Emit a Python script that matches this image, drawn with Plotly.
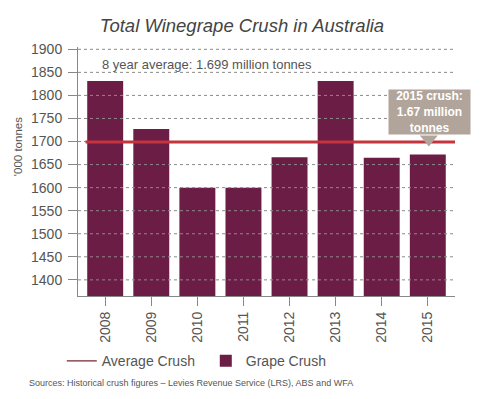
import plotly.graph_objects as go

years = ["2008", "2009", "2010", "2011", "2012", "2013", "2014", "2015"]
crush = [1831, 1727, 1600, 1600, 1666, 1831, 1665, 1672]
average = 1699
y_ticks = [1400, 1450, 1500, 1550, 1600, 1650, 1700, 1750, 1800, 1850, 1900]

FONT = "Liberation Sans"
BAR = "#6c1d46"
RED = "#c3343c"
GREY = "#555555"
TAUPE = "#b1a59b"

fig = go.Figure()
fig.add_trace(go.Scatter(x=[None], y=[None], mode="lines", name="Average Crush",
                         line=dict(color="#7a2430", width=1.2)))
fig.add_trace(go.Bar(x=years, y=crush, name="Grape Crush", marker_color=BAR,
                     marker_line_width=0))

shapes = []
for t in y_ticks:
    shapes.append(dict(type="line", xref="paper", x0=0, x1=1, yref="y", y0=t, y1=t,
                       line=dict(color="#8a8a8a", width=1, dash="dot"), layer="above"))
shapes.append(dict(type="line", xref="paper", x0=0.02, x1=1, yref="y", y0=average, y1=average,
                   line=dict(color=RED, width=3), layer="above"))
# callout pointer
shapes.append(dict(type="path", xref="x", yref="y", xsizemode="pixel", ysizemode="pixel",
                   xanchor=7, yanchor=crush[-1],
                   path="M -8,19 L 10,19 L 1,8 Z", fillcolor=TAUPE,
                   line=dict(width=0), layer="above"))

annotations = [
    dict(text="8 year average: 1.699 million tonnes", xref="paper", yref="y",
         x=0.058, y=1868, xanchor="left", yanchor="middle", showarrow=False,
         font=dict(family=FONT, size=13, color=GREY)),
    dict(text="'000 tonnes", xref="paper", yref="paper", x=-0.159, y=0.598,
         xanchor="center", yanchor="middle", textangle=-90, showarrow=False,
         font=dict(family=FONT, size=11.5, color=GREY)),
    dict(text="<b>2015 crush:<br>1.67 million<br>tonnes</b>", xref="x", yref="y",
         x=7, y=crush[-1], xanchor="center", yanchor="bottom", yshift=19, xshift=2,
         showarrow=False, bgcolor=TAUPE, width=81, height=44, borderpad=0,
         font=dict(family=FONT, size=12, color="white")),
    dict(text="Sources: Historical crush figures \u2013 Levies Revenue Service (LRS), ABS and WFA",
         xref="paper", yref="paper", x=-0.135, y=-0.35, xanchor="left", yanchor="middle",
         showarrow=False, font=dict(family=FONT, size=9, color=GREY)),
]

fig.update_layout(
    width=488, height=391,
    margin=dict(l=70, r=41, t=39, b=103),
    paper_bgcolor="white", plot_bgcolor="white",
    title=dict(text="<i>Total Winegrape Crush in Australia</i>", x=0.4795, xref="container",
               xanchor="center", y=0.955, yref="container", yanchor="middle",
               font=dict(family=FONT, size=18.5, color="#444444")),
    bargap=0.22,
    showlegend=True,
    legend=dict(orientation="h", x=-0.043, xanchor="left", y=-0.262, yanchor="middle",
                font=dict(family=FONT, size=14, color=GREY), itemwidth=30,
                entrywidth=99, bgcolor="rgba(0,0,0,0)"),
    xaxis=dict(type="category", range=[-0.59, 7.59], tickangle=-90, ticks="outside",
               ticklen=9, tickcolor="#888", showline=True, linecolor="#888", linewidth=1,
               showgrid=False, tickfont=dict(family=FONT, size=14, color=GREY)),
    yaxis=dict(range=[1365, 1905], tickvals=y_ticks, ticks="outside", ticklen=9,
               tickcolor="#888", showline=True, linecolor="#888", linewidth=1,
               showgrid=False, zeroline=False, ticklabelstandoff=3,
               tickfont=dict(family=FONT, size=14, color=GREY)),
    shapes=shapes,
    annotations=annotations,
)

fig.write_html("out.html")
